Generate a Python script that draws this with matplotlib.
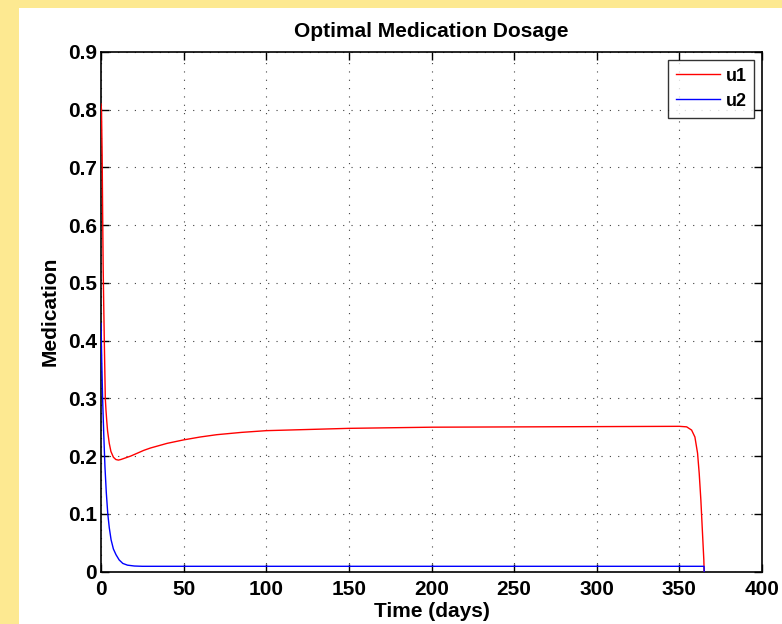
import numpy as np
import matplotlib.pyplot as plt
from matplotlib.patches import Rectangle

# values
t_u1 = [0, 0.3, 0.7, 1.0, 1.3, 1.6, 2, 2.6, 3, 3.5, 4, 5, 6, 7.5, 9, 10.5, 12,
        15, 18, 22, 26, 30, 35, 40, 45, 50, 60, 70, 85, 100, 125, 150, 200,
        250, 300, 350, 354.4, 357.4, 359.4, 361, 362, 363, 364, 364.8, 365]
u1 = [0.81, 0.80, 0.72, 0.62, 0.53, 0.47, 0.40, 0.30, 0.28, 0.26, 0.243,
      0.222, 0.208, 0.198, 0.194, 0.193, 0.194, 0.197, 0.200, 0.205, 0.210,
      0.214, 0.218, 0.222, 0.225, 0.228, 0.233, 0.237, 0.241, 0.244, 0.246,
      0.248, 0.250, 0.2505, 0.251, 0.2515, 0.2506, 0.245, 0.233, 0.205, 0.17,
      0.124, 0.066, 0.02, 0.0]

t_u2 = [0, 0.5, 1, 1.7, 2.4, 3.2, 4.1, 5, 6.1, 7.5, 9.1, 11, 13.2, 16, 20.2,
        25, 30, 50, 100, 200, 300, 364.9, 365]
u2 = [0.43, 0.36, 0.297, 0.235, 0.181, 0.137, 0.10, 0.076, 0.055, 0.039,
      0.029, 0.020, 0.014, 0.011, 0.0095, 0.009, 0.009, 0.009, 0.009, 0.009,
      0.009, 0.009, 0.0]

x_ticks = [0, 50, 100, 150, 200, 250, 300, 350, 400]
y_ticks = [0, 0.1, 0.2, 0.3, 0.4, 0.5, 0.6, 0.7, 0.8, 0.9]
y_tick_labels = ['0', '0.1', '0.2', '0.3', '0.4', '0.5', '0.6', '0.7', '0.8', '0.9']

plt.rcParams['font.family'] = ['Liberation Sans', 'DejaVu Sans']
plt.rcParams['font.weight'] = 'bold'

fig = plt.figure(figsize=(7.82, 6.24), dpi=100, facecolor='#fde991')
# white figure area inside the yellow frame
fig.patches.append(Rectangle((19 / 782, 0), 1 - 19 / 782, 1 - 8 / 624,
                             transform=fig.transFigure, facecolor='white',
                             edgecolor='none', zorder=-10))

ax = fig.add_axes([101 / 782, 1 - 571.5 / 624, 661 / 782, 519.5 / 624])
ax.set_zorder(5)
ax.plot(t_u1, u1, color='red', linewidth=1.0, label='u1', zorder=3)
ax.plot(t_u2, u2, color='blue', linewidth=1.0, label='u2', zorder=3)

ax.set_xlim(0, 400)
ax.set_ylim(0, 0.9)
ax.set_xticks(x_ticks)
ax.set_yticks(y_ticks)
ax.set_yticklabels(y_tick_labels)
ax.tick_params(axis='both', direction='in', top=True, right=True, length=6,
               width=1, labelsize=15)
ax.tick_params(axis='x', pad=6)
ax.tick_params(axis='y', pad=3)
for lab in ax.get_xticklabels() + ax.get_yticklabels():
    lab.set_fontweight('bold')
for s in ax.spines.values():
    s.set_linewidth(1.2)

ax.grid(True, linestyle=(0, (1, 6.5)), color='#404040', linewidth=0.8)

ax.set_title('Optimal Medication Dosage', fontsize=15, fontweight='bold', pad=11)
ax.set_xlabel('Time (days)', fontsize=15, fontweight='bold', labelpad=2)
ax.set_ylabel('Medication', fontsize=15, fontweight='bold', labelpad=6)

leg = ax.legend(loc='upper right', fontsize=13, frameon=True, fancybox=False,
                handlelength=2.45, handletextpad=0.28, borderpad=0.44,
                borderaxespad=0.42, labelspacing=0.45)
leg.get_frame().set_edgecolor('black')
leg.get_frame().set_linewidth(1.0)
for txt in leg.get_texts():
    txt.set_fontweight('bold')

fig.savefig('out.png', dpi=100, facecolor=fig.get_facecolor())
